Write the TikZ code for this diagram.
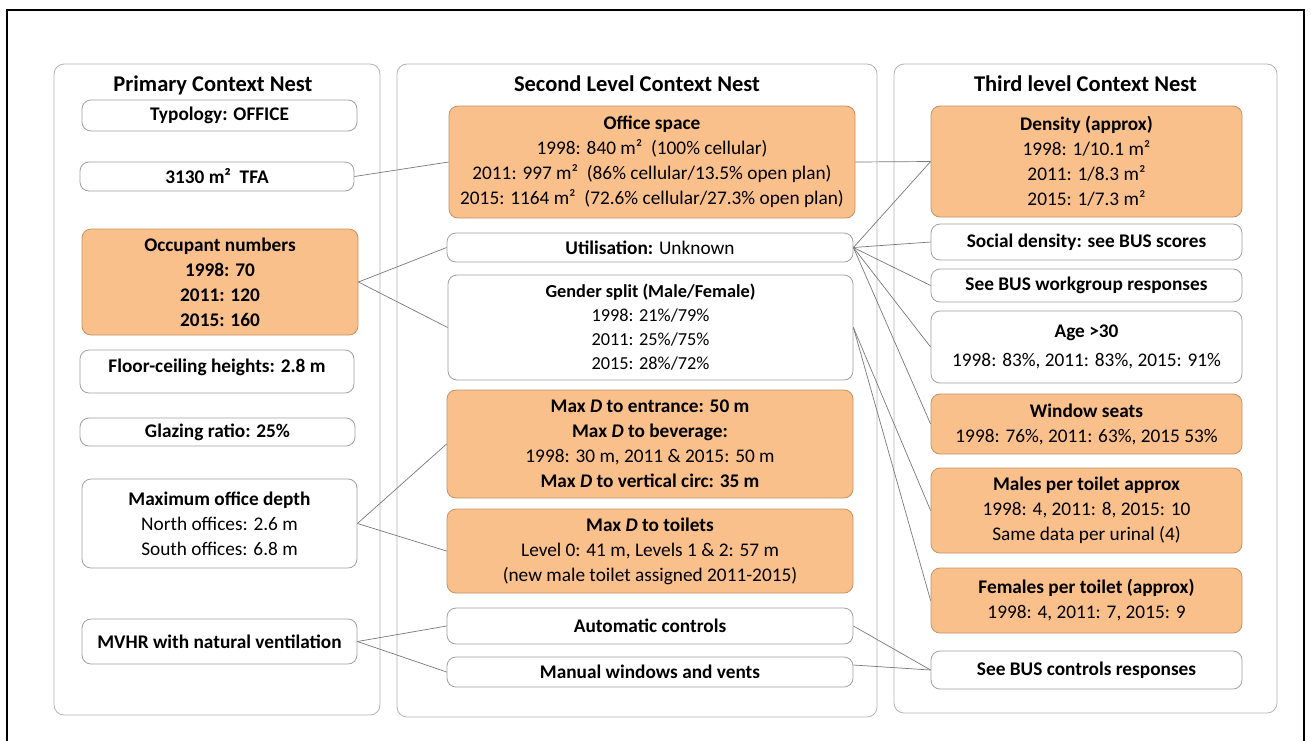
\documentclass[tikz,border=0pt]{standalone}
\usepackage{fontspec}
\setmainfont{Carlito}
\definecolor{orfill}{RGB}{250,192,140}
\definecolor{ordraw}{RGB}{196,146,96}
\definecolor{wdraw}{RGB}{160,160,160}
\definecolor{cdraw}{RGB}{178,178,178}
\definecolor{lnk}{RGB}{120,120,120}
\newcommand\cnTitle{\fontsize{22.5}{27}\selectfont\bfseries}
\newcommand\cnBody{\fontsize{19.3}{25}\selectfont}
\tikzset{
  sz/.style 2 args={minimum width=#1, minimum height=#2},
  wbox/.style={draw=wdraw, fill=white, line width=0.8pt, rounded corners=9pt, align=center, inner sep=0pt, font=\cnBody},
  obox/.style={wbox, draw=ordraw, fill=orfill},
  cont/.style={draw=cdraw, line width=0.8pt, rounded corners=10pt, inner sep=0pt},
  ttl/.style={font=\cnTitle, inner sep=0pt},
  conn/.style={draw=lnk, line width=0.7pt},
  frame/.style={draw=black, line width=2.8pt}
}
\begin{document}
\begin{tikzpicture}[x=1pt,y=-1pt]
\useasboundingbox (0,0) rectangle (1311,740);
% outer frame (open at bottom)
\coordinate (fbl) at (7,742);
\coordinate (ftl) at (7,10);
\coordinate (ftr) at (1304,10);
\coordinate (fbr) at (1304,742);
\draw[frame] (fbl) -- (ftl) -- (ftr) -- (fbr);
% containers
\node[cont, sz={326}{651}] (c1) at (217,389.5) {};
\node[cont, sz={480}{653}] (c2) at (637,390.5) {};
\node[cont, sz={383}{649}] (c3) at (1085.5,388.5) {};
\node[ttl] (t1) at (213,85) {Primary Context Nest};
\node[ttl] (t2) at (637,84) {Second Level Context Nest};
\node[ttl] (t3) at (1085.5,84) {Third level Context Nest};
% column 1
\node[wbox, sz={275}{31}] (typ) at (219.5,115.5) {\textbf{Typology: OFFICE}};
\node[wbox, sz={274}{29}] (tfa) at (217,176.5) {\textbf{3130 m² \ TFA}};
\node[obox, sz={276}{106}, font=\cnBody\bfseries] (occ) at (220,282) {Occupant numbers\\1998: 70\\2011: 120\\2015: 160};
\node[wbox, sz={274}{43}, text depth=12pt] (flr) at (217,371.5) {\textbf{Floor-ceiling heights: 2.8 m}};
\node[wbox, sz={275}{28}] (glz) at (217.5,432) {\textbf{Glazing ratio: 25\%}};
\node[wbox, sz={275}{89}] (dep) at (219.5,523.5) {\textbf{Maximum office depth}\\North offices: 2.6 m\\South offices: 6.8 m};
\node[wbox, sz={275}{45}] (mvhr) at (219.5,641.5) {\textbf{MVHR with natural ventilation}};
% column 2
\node[obox, sz={406}{112}] (off) at (652,162) {\textbf{Office space}\\1998: 840 m² \ (100\% cellular)\\2011: 997 m² \ (86\% cellular/13.5\% open plan)\\2015: 1164 m² \ (72.6\% cellular/27.3\% open plan)};
\node[wbox, sz={406}{29}] (uti) at (650,247.5) {\textbf{Utilisation:} Unknown};
\node[wbox, sz={405}{105}, font=\fontsize{18.3}{24}\selectfont] (gen) at (650.5,327.5) {\textbf{Gender split (Male/Female)}\\1998: 21\%/79\%\\2011: 25\%/75\%\\2015: 28\%/72\%};
\node[obox, sz={406}{108}] (ent) at (650,444) {\textbf{Max \textit{D} to entrance: 50 m}\\\textbf{Max \textit{D} to beverage:}\\1998: 30 m, 2011 \& 2015: 50 m\\\textbf{Max \textit{D} to vertical circ: 35 m}};
\node[obox, sz={406}{84}] (toi) at (650,551) {\textbf{Max \textit{D} to toilets}\\Level 0: 41 m, Levels 1 \& 2: 57 m\\(new male toilet assigned 2011-2015)};
\node[wbox, sz={406}{36}] (aut) at (650,626) {\textbf{Automatic controls}};
\node[wbox, sz={406}{30}] (man) at (650,672) {\textbf{Manual windows and vents}};
% column 3
\node[obox, sz={311}{111}] (den) at (1086.5,161.5) {\textbf{Density (approx)}\\1998: 1/10.1 m²\\2011: 1/8.3 m²\\2015: 1/7.3 m²};
\node[wbox, sz={311}{36}] (soc) at (1086.5,242) {\textbf{Social density: see BUS scores}};
\node[wbox, sz={311}{33}] (wrk) at (1086.5,285.5) {\textbf{See BUS workgroup responses}};
\node[wbox, sz={311}{72}] (age) at (1086.5,347) {\textbf{Age >30}\\[4pt]1998: 83\%, 2011: 83\%, 2015: 91\%};
\node[obox, sz={311}{60}] (win) at (1086.5,424) {\textbf{Window seats}\\1998: 76\%, 2011: 63\%, 2015 53\%};
\node[obox, sz={311}{85}] (mal) at (1086.5,510.5) {\textbf{Males per toilet approx}\\1998: 4, 2011: 8, 2015: 10\\Same data per urinal (4)};
\node[obox, sz={311}{65}] (fem) at (1086.5,600.5) {\textbf{Females per toilet (approx)}\\1998: 4, 2011: 7, 2015: 9};
\node[wbox, sz={311}{38}] (ctl) at (1086.5,670) {\textbf{See BUS controls responses}};
% connectors
\draw[conn] (tfa.east) -- (off.west);
\draw[conn] (off.east) -- (den.west);
\draw[conn] (occ.east) -- (uti.west);
\draw[conn] (occ.east) -- (gen.west);
\draw[conn] (uti.east) -- (den.west);
\draw[conn] (uti.east) -- (soc.west);
\draw[conn] (uti.east) -- (wrk.west);
\draw[conn] (uti.east) -- (age.west);
\draw[conn] (uti.east) -- (win.west);
\draw[conn] (gen.east) -- (mal.west);
\draw[conn] (gen.east) -- (fem.west);
\draw[conn] (dep.east) -- (ent.west);
\draw[conn] (dep.east) -- (toi.west);
\draw[conn] (mvhr.east) -- (aut.west);
\draw[conn] (mvhr.east) -- (man.west);
\draw[conn] (aut.east) -- (ctl.west);
\draw[conn] ([yshift=7pt]man.east) -- (ctl.west);
\end{tikzpicture}
\end{document}
